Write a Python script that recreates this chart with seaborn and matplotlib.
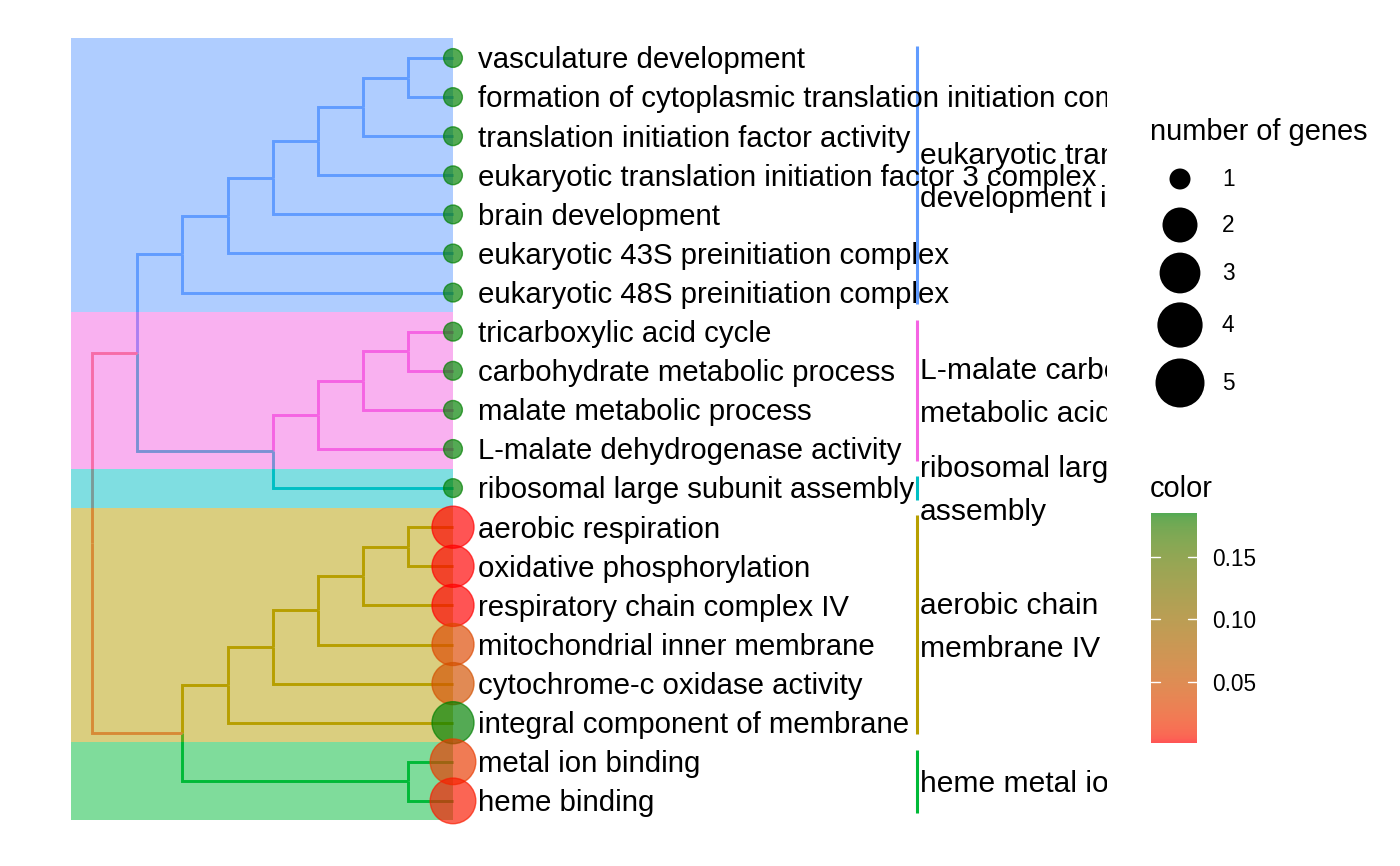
import numpy as np
import pandas as pd
import matplotlib
matplotlib.use("Agg")
import matplotlib.pyplot as plt
import seaborn as sns
from matplotlib.colors import LinearSegmentedColormap, Normalize
from matplotlib.cm import ScalarMappable
from matplotlib.patches import Rectangle

# ---------------- data ----------------
terms = [
    "vasculature development",
    "formation of cytoplasmic translation initiation complex",
    "translation initiation factor activity",
    "eukaryotic translation initiation factor 3 complex",
    "brain development",
    "eukaryotic 43S preinitiation complex",
    "eukaryotic 48S preinitiation complex",
    "tricarboxylic acid cycle",
    "carbohydrate metabolic process",
    "malate metabolic process",
    "L-malate dehydrogenase activity",
    "ribosomal large subunit assembly",
    "aerobic respiration",
    "oxidative phosphorylation",
    "respiratory chain complex IV",
    "mitochondrial inner membrane",
    "cytochrome-c oxidase activity",
    "integral component of membrane",
    "metal ion binding",
    "heme binding",
]
gene_counts = [1, 1, 1, 1, 1, 1, 1, 1, 1, 1, 1, 1, 4, 4, 4, 4, 4, 4, 5, 5]
p_adjust = [0.1856, 0.1856, 0.1856, 0.1856, 0.1856, 0.1856, 0.1856,
            0.1856, 0.1856, 0.1856, 0.1856, 0.1856,
            0.0007, 0.0009, 0.0012, 0.035, 0.045, 0.1856, 0.022, 0.006]
leaf_cluster = [0, 0, 0, 0, 0, 0, 0, 1, 1, 1, 1, 2, 3, 3, 3, 3, 3, 3, 4, 4]
cluster_labels = [
    "eukaryotic translation\ndevelopment initiation",
    "L-malate carboxylic\nmetabolic acid",
    "ribosomal large\nassembly",
    "aerobic chain\nmembrane IV",
    "heme metal ion",
]
cluster_colors = ["#619CFF", "#F564E3", "#00BFC4", "#B79F00", "#00BA38"]
root_color = "#F8766D"

# dendrogram merges: (child_a, child_b, depth); new node ids start at 20
merges = [
    (0, 1, 1), (20, 2, 2), (21, 3, 3), (22, 4, 4), (23, 5, 5), (24, 6, 6),
    (7, 8, 1), (26, 9, 2), (27, 10, 3), (28, 11, 4),
    (25, 29, 7),
    (12, 13, 1), (31, 14, 2), (32, 15, 3), (33, 16, 4), (34, 17, 5),
    (18, 19, 1),
    (35, 36, 6),
    (30, 37, 8),
]
# branch group of internal nodes 20..37 (-1 = ungrouped / root colour)
node_group = [0, 0, 0, 0, 0, 0, 1, 1, 1, 2, -1, 3, 3, 3, 3, 3, 4, -1]

size_legend_values = [1, 2, 3, 4, 5]
color_ticks = [0.05, 0.10, 0.15]

# ---------------- helpers ----------------
def hex2rgb(h):
    h = h.lstrip("#")
    return np.array([int(h[i:i + 2], 16) / 255 for i in (0, 2, 4)])

M = np.array([[0.4124, 0.3576, 0.1805], [0.2126, 0.7152, 0.0722], [0.0193, 0.1192, 0.9505]])
WN = np.array([0.95047, 1.0, 1.08883])

def rgb2lab(c):
    lin = np.where(c <= 0.04045, c / 12.92, ((c + 0.055) / 1.055) ** 2.4)
    xyz = M @ lin / WN
    f = np.where(xyz > 0.008856, np.cbrt(xyz), 7.787 * xyz + 16 / 116)
    return np.array([116 * f[1] - 16, 500 * (f[0] - f[1]), 200 * (f[1] - f[2])])

def lab2rgb(lab):
    fy = (lab[0] + 16) / 116
    fx = fy + lab[1] / 500
    fz = fy - lab[2] / 200
    f = np.array([fx, fy, fz])
    xyz = np.where(f ** 3 > 0.008856, f ** 3, (f - 16 / 116) / 7.787) * WN
    lin = np.linalg.inv(M) @ xyz
    lin = np.clip(lin, 0, 1)
    c = np.where(lin <= 0.0031308, 12.92 * lin, 1.055 * lin ** (1 / 2.4) - 0.055)
    return np.clip(c, 0, 1)

lo, hi = rgb2lab(hex2rgb("#FF0000")), rgb2lab(hex2rgb("#008000"))
cmap = LinearSegmentedColormap.from_list(
    "padj", [lab2rgb(lo + (hi - lo) * t) for t in np.linspace(0, 1, 64)])
norm = Normalize(vmin=min(p_adjust), vmax=max(p_adjust))

def legend_diam(n):  # px, area palette like ggplot
    return 21 + 28 * np.sqrt((n - 1) / 4)

# ---------------- figure ----------------
sns.set_style("white")
plt.rcParams["font.family"] = ["Liberation Sans", "DejaVu Sans"]
plt.rcParams["text.color"] = "black"
plt.rcParams["ytick.color"] = "black"
plt.rcParams["ytick.labelcolor"] = "black"

W, H = 1400, 866
fig = plt.figure(figsize=(14, 8.66), dpi=100)
TIP_PX, UNIT_PX, ROW0_PX, ROW_PX, CLIP_PX = 453, 45.1, 58, 39.1, 1107

ax = fig.add_axes([0, 0, CLIP_PX / W, 1])
ax.set_xlim(-TIP_PX / UNIT_PX, (CLIP_PX - TIP_PX) / UNIT_PX)
ax.set_ylim(1 + (H - ROW0_PX) / ROW_PX, 1 - ROW0_PX / ROW_PX)
ax.axis("off")

n_leaf = len(terms)
xs = {i: 0.0 for i in range(n_leaf)}
ys = {i: float(i + 1) for i in range(n_leaf)}
edge_col = {i: cluster_colors[leaf_cluster[i]] for i in range(n_leaf)}
for k, g in enumerate(node_group):
    edge_col[n_leaf + k] = root_color if g < 0 else cluster_colors[g]

for k, (a, b, d) in enumerate(merges):
    n = n_leaf + k
    xs[n] = -float(d)
    ys[n] = (ys[a] + ys[b]) / 2
    for c in (a, b):
        ax.plot([xs[n], xs[n], xs[c]], [ys[n], ys[c], ys[c]], color=edge_col[c],
                lw=2.1, solid_joinstyle="miter", solid_capstyle="butt", zorder=1)

TXT_DY = 0.06
# highlight rectangles, cluster bars and labels
rect_left = -8.47
for ci, col in enumerate(cluster_colors):
    rows = [i + 1 for i in range(n_leaf) if leaf_cluster[i] == ci]
    ax.add_patch(Rectangle((rect_left, min(rows) - 0.5), 0 - rect_left,
                           max(rows) - min(rows) + 1, facecolor=col, alpha=0.5,
                           edgecolor="none", zorder=2))
    bx = (917 - TIP_PX) / UNIT_PX
    ax.plot([bx, bx], [min(rows) - 0.3, max(rows) + 0.3], color=col, lw=2.2,
            solid_capstyle="butt", zorder=2)
    ax.text((920 - TIP_PX) / UNIT_PX, (min(rows) + max(rows)) / 2 + TXT_DY,
            cluster_labels[ci], ha="left", va="center", fontsize=21.6,
            linespacing=1.68, clip_on=True, color="black")

# tip points
df = pd.DataFrame({"term": terms, "count": gene_counts, "padj": p_adjust,
                   "x": 0.0, "row": np.arange(1, n_leaf + 1, dtype=float)})
lw_pt = 1.0
sizes = {n: ((legend_diam(n) * 0.96 - lw_pt / 0.72) * 0.72) ** 2 for n in size_legend_values}
sns.scatterplot(data=df, x="x", y="row", hue="padj", size="count", sizes=sizes,
                palette=cmap, hue_norm=norm, alpha=0.67, edgecolor="face",
                linewidth=lw_pt, legend=False, ax=ax, zorder=3, clip_on=False)
ax.set_xlabel("")
ax.set_ylabel("")
ax.set_xlim(-TIP_PX / UNIT_PX, (CLIP_PX - TIP_PX) / UNIT_PX)
ax.set_ylim(1 + (H - ROW0_PX) / ROW_PX, 1 - ROW0_PX / ROW_PX)

for i, t in enumerate(terms):
    ax.text((478 - TIP_PX) / UNIT_PX, i + 1 + TXT_DY, t, ha="left", va="center",
            fontsize=21.2, clip_on=True, color="black")

# ---------------- legends ----------------
lax = fig.add_axes([0, 0, 1, 1], zorder=5)
lax.set_xlim(0, W)
lax.set_ylim(H, 0)
lax.axis("off")
lax.text(1150, 132, "number of genes", ha="left", va="center", fontsize=20.9, color="black")
leg_y = [179, 225, 273, 325, 383]
lax.scatter([1180] * len(size_legend_values), leg_y,
            s=[(legend_diam(n) * 0.72) ** 2 for n in size_legend_values],
            color="black", edgecolors="none")
for n, yy in zip(size_legend_values, leg_y):
    lax.text(1222, yy + 1, str(n), ha="left", va="center", fontsize=16.3, color="black")

lax.text(1150, 489, "color", ha="left", va="center", fontsize=20.9, color="black")
cb_l, cb_t, cb_w, cb_h = 1151, 513, 46, 230
cax = fig.add_axes([cb_l / W, 1 - (cb_t + cb_h) / H, cb_w / W, cb_h / H], zorder=6)
sm = ScalarMappable(norm=norm, cmap=cmap)
cbar = fig.colorbar(sm, cax=cax, alpha=0.67, ticks=color_ticks)
cbar.outline.set_visible(False)
cbar.ax.set_yticklabels([f"{v:.2f}" for v in color_ticks])
cax.tick_params(length=0, pad=11, labelsize=16.3, labelcolor="black")
for v in color_ticks:
    cax.plot([0, 0.2], [v, v], color="white", lw=1.0)
    cax.plot([0.8, 1.0], [v, v], color="white", lw=1.0)
cax.set_xlim(0, 1)

fig.savefig("out.png", dpi=100)
